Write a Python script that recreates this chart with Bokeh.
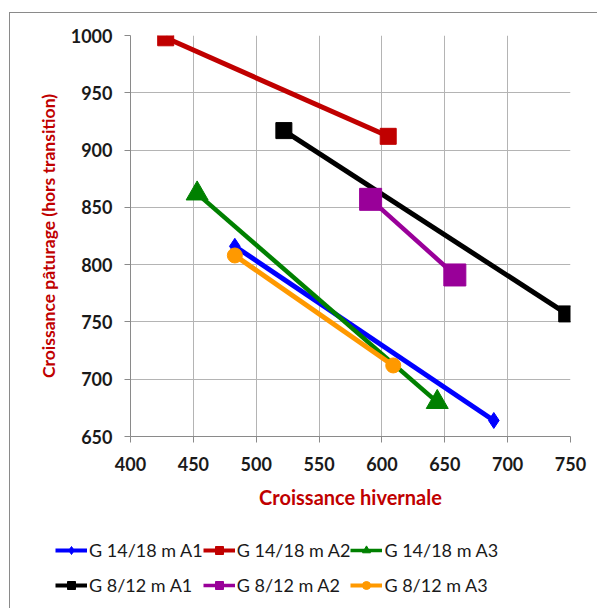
from bokeh.plotting import figure
from bokeh.models import Legend, LegendItem, FixedTicker, Range1d
from bokeh.embed import file_html
from bokeh.resources import INLINE

# ---- data ----
series_names = ["G 14/18 m A1", "G 14/18 m A2", "G 14/18 m A3",
                "G 8/12 m A1", "G 8/12 m A2", "G 8/12 m A3"]
x_14_18_A1 = [483, 689]
y_14_18_A1 = [816, 664]
x_14_18_A2 = [428, 605]
y_14_18_A2 = [998, 912]
x_14_18_A3 = [453, 644]
y_14_18_A3 = [862, 680]
x_8_12_A1 = [522, 747]
y_8_12_A1 = [917, 757]
x_8_12_A2 = [591, 658]
y_8_12_A2 = [857, 791]
x_8_12_A3 = [483, 609]
y_8_12_A3 = [808, 712]
x_ticks = [400, 450, 500, 550, 600, 650, 700, 750]
y_ticks = [650, 700, 750, 800, 850, 900, 950, 1000]

xs = [x_14_18_A1, x_14_18_A2, x_14_18_A3, x_8_12_A1, x_8_12_A2, x_8_12_A3]
ys = [y_14_18_A1, y_14_18_A2, y_14_18_A3, y_8_12_A1, y_8_12_A2, y_8_12_A3]

colors = ["#0000FF", "#C00000", "#008000", "#000000", "#990099", "#FF9900"]
markers = ["diamond", "square", "triangle", "square", "square", "circle"]
msizes = [16, 16, 22, 16, 22, 15]
lwidths = [5, 5, 4.5, 5, 4.5, 5]

FONT = "Lato"

p = figure(width=588, height=503, output_backend="svg", toolbar_location=None,
           x_range=Range1d(400, 750), y_range=Range1d(650, 1000),
           min_border_left=120, min_border_top=22, min_border_right=28,
           min_border_bottom=80)
p.outline_line_color = None
p.background_fill_color = "white"
p.border_fill_color = "white"
p.styles = {"border-left": "1px solid #8a8a8a", "border-top": "1px solid #8a8a8a",
            "margin-left": "9px", "margin-top": "12px"}

for ax, ticks in ((p.xaxis, x_ticks), (p.yaxis, y_ticks)):
    ax.ticker = FixedTicker(ticks=ticks)
    ax.axis_line_color = "#8a8a8a"
    ax.major_tick_line_color = "#8a8a8a"
    ax.major_tick_out = 6
    ax.major_tick_in = 0
    ax.minor_tick_line_color = None
    ax.major_label_text_font = FONT
    ax.major_label_text_font_size = "18px"
    ax.major_label_text_font_style = "bold"
    ax.major_label_text_color = "#1a1a1a"
    ax.axis_label_text_font = FONT
    ax.axis_label_text_font_style = "bold"
    ax.axis_label_text_color = "#C00000"

p.xaxis.axis_label = "Croissance hivernale"
p.yaxis.axis_label = "Croissance pâturage (hors transition)"
p.xaxis.axis_label_text_font_size = "20px"
p.yaxis.axis_label_text_font_size = "17.5px"
p.xaxis.major_label_standoff = 14
p.xaxis.axis_label_standoff = 11
p.yaxis.major_label_standoff = 12
p.yaxis.axis_label_standoff = 9

for g in (p.xgrid, p.ygrid):
    g.grid_line_color = "#b4b4b4"
    g.grid_line_width = 1
p.xgrid.ticker = FixedTicker(ticks=x_ticks)
p.ygrid.ticker = FixedTicker(ticks=y_ticks)

# legend strip: a second root whose view range keeps the series out of sight
q = figure(width=588, height=93, output_backend="svg", toolbar_location=None,
           x_range=Range1d(0, 1), y_range=Range1d(0, 1),
           min_border=0)
q.axis.visible = False
q.grid.visible = False
q.outline_line_color = None
q.border_fill_color = "white"
q.styles = {"border-left": "1px solid #8a8a8a", "margin-left": "9px"}

items = []
for name, x, y, c, m, s, lw in zip(series_names, xs, ys, colors, markers, msizes, lwidths):
    p.line(x, y, line_color=c, line_width=lw)
    p.scatter(x, y, marker=m, size=s, fill_color=c, line_color=c)
    l = q.line(x, y, line_color=c, line_width=lw * 0.8)
    sc = q.scatter(x, y, marker=m, size=s * 0.72, fill_color=c, line_color=c)
    items.append(LegendItem(label=name, renderers=[l, sc]))

order = [0, 3, 1, 4, 2, 5]
legend = Legend(items=[items[i] for i in order], ncols=3, location=(45, 6),
                label_text_font=FONT, label_text_font_size="18px",
                label_text_color="#1a1a1a",
                glyph_width=32, glyph_height=20, label_height=35,
                label_standoff=2, spacing=0, padding=0, margin=0,
                border_line_color=None, background_fill_alpha=0)
q.add_layout(legend)

open("out.html", "w").write(file_html([p, q], INLINE))
